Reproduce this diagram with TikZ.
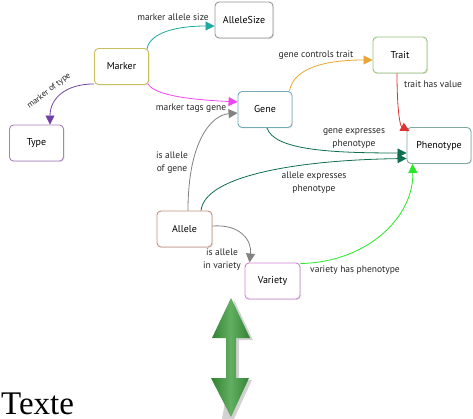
\documentclass[tikz,border=0pt]{standalone}
\usepackage{fontspec}
\setmainfont{PT Sans}
\newfontfamily\serifbig{Liberation Serif}
\usetikzlibrary{arrows.meta,shadows,calc}
\definecolor{cMarker}{RGB}{200,190,90}
\definecolor{cAS}{RGB}{150,150,150}
\definecolor{cType}{RGB}{165,130,190}
\definecolor{cGene}{RGB}{115,170,185}
\definecolor{cTrait}{RGB}{150,195,120}
\definecolor{cPheno}{RGB}{130,170,160}
\definecolor{cAllele}{RGB}{195,145,125}
\definecolor{cVariety}{RGB}{210,130,210}
\definecolor{eTeal}{RGB}{30,170,160}
\definecolor{eMag}{RGB}{240,70,240}
\definecolor{ePurple}{RGB}{115,65,165}
\definecolor{eOrange}{RGB}{235,165,50}
\definecolor{eRed}{RGB}{225,50,50}
\definecolor{eDG}{RGB}{15,110,80}
\definecolor{eGray}{RGB}{130,130,130}
\definecolor{eLG}{RGB}{40,230,40}
\definecolor{aGreen}{RGB}{70,160,70}
\definecolor{aGreenD}{RGB}{50,130,50}
\tikzset{
  box/.style={draw=#1, line width=0.9pt, rounded corners=4pt, fill=white,
    minimum width=54pt, minimum height=36pt, font=\fontsize{10}{11}\selectfont,
    drop shadow={shadow xshift=1pt, shadow yshift=-1pt, opacity=0.25, fill=black!40}},
  rel/.style={draw=#1, line width=0.8pt, -{Triangle[length=9pt,width=9pt]}},
  lab/.style={font=\fontsize{9.5}{13}\selectfont, text=black!85, align=center, inner sep=0pt}
}
\begin{document}
\begin{tikzpicture}[x=1pt,y=-1pt]
\useasboundingbox (0,0) rectangle (473,419);
% nodes
\node[box=cMarker] (marker) at (121.5,66.5) {Marker};
\node[box=cAS, minimum width=58pt] (as) at (244,20) {AlleleSize};
\node[box=cType] (type) at (36.5,143) {Type};
\node[box=cGene] (gene) at (265,109.5) {Gene};
\node[box=cTrait] (trait) at (400,55) {Trait};
\node[box=cPheno, minimum width=64pt] (pheno) at (439,145.5) {Phenotype};
\node[box=cAllele, minimum width=55pt] (allele) at (184.5,229) {Allele};
\node[box=cVariety, minimum width=55pt] (variety) at (272.5,281) {Variety};
% anchor coordinates
\coordinate (mTR) at ($(marker.north east)+(-2,1)$);
\coordinate (mBR) at ($(marker.south east)+(-1,-1)$);
\coordinate (mBL) at ($(marker.south west)+(0,-1)$);
\coordinate (asL) at ($(as.west)+(0,6)$);
\coordinate (typeT) at ($(type.north)+(13.5,0)$);
\coordinate (gL1) at ($(gene.west)+(0,-7.5)$);
\coordinate (gL2) at ($(gene.west)+(0,3.5)$);
\coordinate (gTR) at ($(gene.north east)+(-3,0)$);
\coordinate (gB) at ($(gene.south)+(2,0)$);
\coordinate (tL) at ($(trait.west)+(0,5)$);
\coordinate (tB) at ($(trait.south)+(-3,0)$);
\coordinate (pTL) at ($(pheno.north west)+(3,4)$);
\coordinate (pL1) at ($(pheno.west)+(0,7.5)$);
\coordinate (pL2) at ($(pheno.west)+(0,13)$);
\coordinate (pB) at ($(pheno.south west)+(6,0)$);
\coordinate (aT1) at ($(allele.north)+(3.5,0)$);
\coordinate (aT2) at ($(allele.north)+(16.5,0)$);
\coordinate (aR) at ($(allele.east)+(0,-3)$);
\coordinate (vTL) at ($(variety.north west)+(5,0)$);
\coordinate (vTR) at ($(variety.north east)+(0,1)$);
% edges
\draw[rel=eTeal] (mTR) .. controls (150,32) and (178,26) .. (asL);
\draw[rel=eMag] (mBR) .. controls (156,97) and (200,100) .. (gL1);
\draw[rel=ePurple] (mBL) .. controls (66,84) and (50,98) .. (typeT);
\draw[rel=eOrange] (gTR) .. controls (294,66) and (330,60) .. (tL);
\draw[rel=eRed] (tB) .. controls (397,110) and (400,126) .. (pTL);
\draw[rel=eDG] (gB) .. controls (274,150) and (330,153) .. (pL1);
\draw[rel=eDG] (aT2) .. controls (205,175) and (300,160) .. (pL2);
\draw[rel=eGray] (aT1) .. controls (188,140) and (212,115) .. (gL2);
\draw[rel=eGray] (aR) .. controls (240,224) and (252,240) .. (vTL);
\draw[rel=eLG] (vTR) .. controls (370,262) and (414,215) .. (pB);
% labels
\node[lab] at (173,17) {marker allele size};
\node[lab] at (191,108) {marker tags gene};
\node[lab, rotate=38, font=\fontsize{8.5}{10}\selectfont] at (49,91) {marker of type};
\node[lab] at (316,55) {gene controls trait};
\node[lab] at (433,84) {trait has value};
\node[lab] at (354,139) {gene expresses\\phenotype};
\node[lab] at (314,183) {allele expresses\\phenotype};
\node[lab] at (172,163) {is allele\\of gene};
\node[lab] at (222,260) {is allele\\in variety};
\node[lab] at (355,270) {variety has phenotype};
% double arrow
\fill[black!35, opacity=0.5] (234,300) -- (253,340) -- (239,340) -- (239,380) -- (252,380) -- (234,419) -- (222,419) -- (229,380) -- (229,340) -- cycle;
\shade[left color=aGreenD, right color=aGreenD, middle color=aGreen!85!white]
  (231,298) -- (250,338) -- (236,338) -- (236,378) -- (249,378) -- (231,417) -- (211,378) -- (226,378) -- (226,338) -- (212,338) -- cycle;
\node[anchor=base west, inner sep=0pt, font=\serifbig\fontsize{33}{36}\selectfont] (texte) at (1,414) {Texte};
\end{tikzpicture}
\end{document}
